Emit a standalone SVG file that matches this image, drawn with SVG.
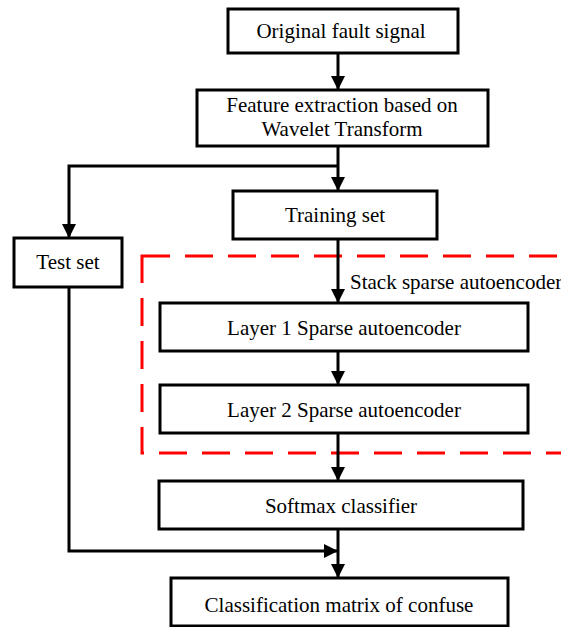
<svg xmlns="http://www.w3.org/2000/svg" width="561" height="627" viewBox="0 0 561 627">
<style>
.box{fill:#fff;stroke:#000;stroke-width:3}
.t{font-family:"Liberation Serif","Times New Roman",serif;font-size:21px;fill:#000;text-anchor:middle}
.c{fill:none;stroke:#000;stroke-width:3}
</style>
<defs>
<marker id="ah" markerUnits="userSpaceOnUse" markerWidth="14" markerHeight="14" viewBox="0 0 14 14" refX="14" refY="7" orient="auto">
<path d="M0,0 L14,7 L0,14 z" fill="#000"/>
</marker>
</defs>
<rect width="561" height="627" fill="#fff"/>
<g id="group-ssae">
<rect x="142" y="256" width="440" height="197" fill="none" stroke="#ff0000" stroke-width="3" stroke-dasharray="28 15"/>
<text x="350" y="289" class="t" style="text-anchor:start">Stack sparse autoencoder</text>
</g>
<g id="connectors">
<path class="c" d="M338,53 V90" marker-end="url(#ah)"/>
<path class="c" d="M338,146 V191" marker-end="url(#ah)"/>
<path class="c" d="M338,166 H69 V238" marker-end="url(#ah)"/>
<path class="c" d="M338,239 V303" marker-end="url(#ah)"/>
<path class="c" d="M338,351 V385" marker-end="url(#ah)"/>
<path class="c" d="M338,433 V481" marker-end="url(#ah)"/>
<path class="c" d="M338,529 V578" marker-end="url(#ah)"/>
<path class="c" d="M69,287 V551 H338" marker-end="url(#ah)"/>
</g>
<g id="n-original">
<rect class="box" x="228" y="9" width="230" height="44"/>
<text class="t" x="341" y="38">Original fault signal</text>
</g>
<g id="n-feature">
<rect class="box" x="197" y="90" width="291" height="56"/>
<text class="t" x="342" y="112">Feature extraction based on</text>
<text class="t" x="342" y="136">Wavelet Transform</text>
</g>
<g id="n-training">
<rect class="box" x="233" y="191" width="204" height="48"/>
<text class="t" x="335" y="222">Training set</text>
</g>
<g id="n-test">
<rect class="box" x="14" y="238" width="108" height="49"/>
<text class="t" x="68" y="269">Test set</text>
</g>
<g id="n-layer1">
<rect class="box" x="160" y="303" width="368" height="48"/>
<text class="t" x="344" y="335">Layer 1 Sparse autoencoder</text>
</g>
<g id="n-layer2">
<rect class="box" x="160" y="385" width="368" height="48"/>
<text class="t" x="344" y="417">Layer 2 Sparse autoencoder</text>
</g>
<g id="n-softmax">
<rect class="box" x="159" y="481" width="364" height="48"/>
<text class="t" x="341" y="513">Softmax classifier</text>
</g>
<g id="n-classification">
<rect class="box" x="171" y="578" width="337" height="48"/>
<text class="t" x="339" y="612">Classification matrix of confuse</text>
</g>
</svg>
